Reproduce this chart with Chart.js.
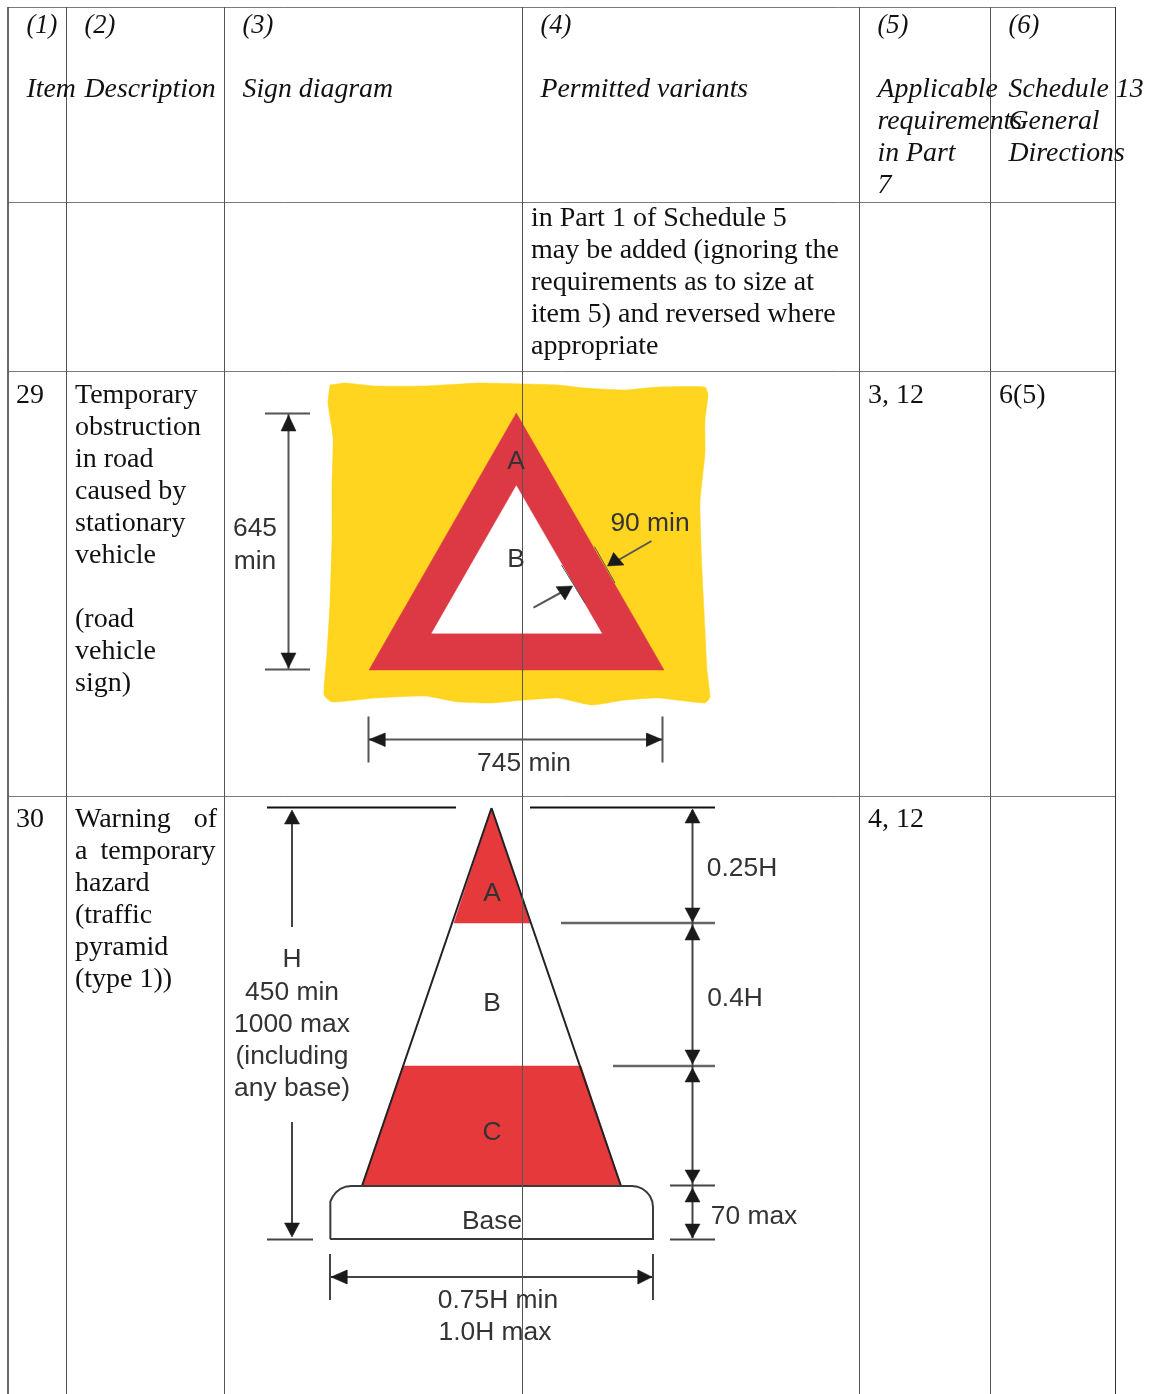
<!DOCTYPE html>
<html>
<head>
<meta charset="utf-8">
<title>Sign table</title>
<script src="https://cdn.jsdelivr.net/npm/chart.js@4/dist/chart.umd.min.js"></script>
<style>
  html, body { margin: 0; padding: 0; background: #fff; overflow: hidden; }
  canvas { display: block; }
</style>
</head>
<body>
<canvas id="signTable" width="1155" height="1394"></canvas>
<script>
// Table rules
const tableColumns = [8, 66.5, 224.5, 522.5, 859.5, 990.5, 1115.5];
const tableRows = [7.5, 202.5, 371.5, 796.5];

// Text of the table
const headerNumbers = ['(1)', '(2)', '(3)', '(4)', '(5)', '(6)'];
const headerX = [26.5, 84.5, 242.5, 540.5, 877.5, 1008.5];
const headerTitles = [
    ['Item'], ['Description'], ['Sign diagram'], ['Permitted variants'],
    ['Applicable', 'requirements', 'in Part', '7'],
    ['Schedule 13', 'General', 'Directions']
];
const carriedOver = ['in Part 1 of Schedule 5', 'may be added (ignoring the', 'requirements as to size at', 'item 5) and reversed where', 'appropriate'];
const item29 = ['Temporary', 'obstruction', 'in road', 'caused by', 'stationary', 'vehicle', '', '(road', 'vehicle', 'sign)'];
const item30 = [['Warning', 'of'], ['a', 'temporary'], ['hazard'], ['(traffic'], ['pyramid'], ['(type 1))']];

// Item 29 sign
const yellowPatch = [[330,385],[345,383],[375,386],[425,386],[478,383],[525,384],[558,385],[585,388],[625,390],[658,387],[705,387],[708,395],[705,420],[705,453],[700,503],[702,570],[705,630],[707,670],[710,697],[705,703],[658,698],[625,700],[592,705],[558,698],[525,700],[492,703],[458,702],[425,696],[375,698],[332,702],[324,695],[327,653],[330,603],[332,537],[332,487],[333,437],[328,403],[330,385]];
const redTriangle = [[516.3,413],[369,670],[664,670],[516.3,413]];
const whiteTriangle = [[516.3,485.7],[431.7,633.3],[601.7,633.3],[516.3,485.7]];
const sign29Rules = [
    [[265,413.5],[310,413.5]], [[265,669.5],[310,669.5]], [[288.5,414],[288.5,669]],
    [[368.5,716.5],[368.5,762.5]], [[662.5,716.5],[662.5,762.5]], [[369,739.5],[662,739.5]],
    [[651.5,541],[615,562]], [[533.5,607.7],[562,592]]
];
const sign29Edges = [[[594.5,546.5],[615,583]], [[561.5,565],[585,603]]];
const sign29Arrows = [
    [[288.5,415],[281,431],[296,431]], [[288.5,668],[281,653],[296,653]],
    [[369,739.5],[385,733],[385,746.5]], [[662,739.5],[646.5,733],[646.5,746.5]],
    [[607.5,566],[613.5,552.5],[624,565]], [[572.7,586],[556,586.7],[565,600]]
];
const sign29Labels = [['645',255,536],['min',255,569],['A',516,469],['B',516,567],['90 min',650,531],['745 min',524,771]];

// Item 30 sign
const coneOutline = [[491.5,808],[621,1186],[362,1186],[491.5,808]];
const bandA = [[491.5,808],[530,923],[454,923],[491.5,808]];
const bandC = [[403,1066],[581,1066],[621,1186],[362,1186],[403,1066]];
const coneBase = [[330,1239],[330,1207],[330.7,1201.6],[332.8,1196.5],[336.2,1192.2],[340.5,1188.8],[345.6,1186.7],[351,1186],[632,1186],[637.4,1186.7],[642.5,1188.8],[646.8,1192.2],[650.2,1196.5],[652.3,1201.6],[653,1207],[653,1239],[330,1239]];
const sign30BlackRules = [[[267,807.5],[456,807.5]], [[530,807.5],[715,807.5]]];
const sign30HeavyRules = [[[561,923],[715,923]], [[613,1066],[715,1066]]];
const sign30Rules = [
    [[292,812],[292,927]], [[292,1122],[292,1225]], [[267,1239.5],[313,1239.5]],
    [[692.5,810],[692.5,1238]], [[670,1185.5],[715,1185.5]], [[670,1239.5],[715,1239.5]],
    [[330,1254],[330,1300]], [[653,1254],[653,1300]], [[331,1277],[652,1277]]
];
const sign30Arrows = [
    [[292,810],[284.5,824],[299.5,824]], [[292,1237],[284.5,1223],[299.5,1223]],
    [[692.5,809],[685,823],[700,823]], [[692.5,922],[685,908],[700,908]],
    [[692.5,925],[685,940],[700,940]], [[692.5,1064],[685,1050],[700,1050]],
    [[692.5,1068],[685,1082],[700,1082]], [[692.5,1183],[685,1170],[700,1170]],
    [[692.5,1188],[685,1202],[700,1202]], [[692.5,1238],[685,1224],[700,1224]],
    [[331,1277],[347,1270],[347,1284]], [[652,1277],[638,1270],[638,1284]]
];
const sign30Labels = [
    ['A',492,901],['B',492,1011],['C',492,1140],['Base',492,1229],
    ['H',292,967],['450 min',292,1000],['1000 max',292,1032],['(including',292,1064],['any base)',292,1096],
    ['0.25H',742,876],['0.4H',735,1006],['70 max',754,1224],['0.75H min',498,1308],['1.0H max',495,1340]
];

const SOFT = 'blur(0.5px)'; // the sign pictures in the source are scaled up and a bit soft

const toPoints = (pts) => pts.map(([x, y]) => ({ x, y }));

// order: lower is painted on top, so the table rules come out above the signs
function outline(pts, color, width, order) {
    return { data: toPoints(pts), borderColor: color, borderWidth: width, fill: false, order };
}
function shape(pts, color, order, tension = 0) {
    return { data: toPoints(pts), borderColor: color, borderWidth: 0.5, backgroundColor: color, fill: 'shape', tension, order };
}

const datasets = [
    shape(yellowPatch, '#ffd520', 9, 0.15),
    shape(redTriangle, '#dc3945', 8),
    shape(whiteTriangle, '#ffffff', 7),
    shape(coneBase, '#ffffff', 9),
    outline(coneBase, '#3a3a3a', 2, 6),
    shape(bandA, '#e6393c', 8),
    shape(bandC, '#e6393c', 8),
    outline(coneOutline, '#222222', 2, 7),
    ...sign29Rules.map((r) => outline(r, '#555555', 2, 5)),
    ...sign29Edges.map((r) => outline(r, '#555555', 1, 5)),
    ...sign30Rules.map((r) => outline(r, '#444444', 2, 5)),
    ...sign30HeavyRules.map((r) => outline(r, '#666666', 2.6, 5)),
    ...sign30BlackRules.map((r) => outline(r, '#111111', 1.8, 5)),
    ...sign29Arrows.concat(sign30Arrows).map((a) => shape([...a, a[0]], '#1a1a1a', 4)),
    ...tableColumns.map((x, i) => outline([[x, 7], [x, 1394]], i === 6 ? '#333333' : '#555555', 1, 1)),
    ...tableRows.map((y) => outline([[8, y], [1115.5, y]], '#7a7a7a', 1, 2))
];

// Soft focus for the sign datasets only, switched off again before the table rules
const softSigns = {
    id: 'softSigns',
    beforeDatasetsDraw(chart) {
        chart.ctx.filter = SOFT;
    },
    afterDatasetDraw(chart, args) {
        const metas = chart.getSortedVisibleDatasetMetas();
        const next = metas[metas.findIndex((m) => m.index === args.index) - 1];
        if (next && next.order <= 2) chart.ctx.filter = 'none';
    }
};

// Table and diagram text, placed through the same scales as the marks
const tableText = {
    id: 'tableText',
    afterDatasetsDraw(chart) {
        const { ctx, scales: { x: xs, y: ys } } = chart;
        const put = (text, x, y) => ctx.fillText(text, xs.getPixelForValue(x), ys.getPixelForValue(y));
        const PITCH = 32;

        ctx.save();
        ctx.filter = 'none';
        ctx.textBaseline = 'alphabetic';
        ctx.textAlign = 'left';
        ctx.fillStyle = '#111';

        ctx.font = "italic 26.5px 'Liberation Serif'";
        headerNumbers.forEach((t, i) => put(t, headerX[i], 33));
        ctx.font = "italic 27.8px 'Liberation Serif'";
        headerTitles.forEach((lines, i) => lines.forEach((t, j) => put(t, headerX[i], 97 + j * PITCH)));

        ctx.font = "28px 'Liberation Serif'";
        carriedOver.forEach((t, i) => put(t, 531, 226 + i * PITCH));
        put('29', 16, 403);
        item29.forEach((t, i) => put(t, 75, 403 + i * PITCH));
        put('3, 12', 868, 403);
        put('6(5)', 999, 403);
        put('30', 16, 827);
        put('4, 12', 868, 827);
        item30.forEach((words, i) => {
            const y = 827 + i * PITCH;
            put(words[0], 75, y);
            if (words[1]) {
                ctx.textAlign = 'right';
                put(words[1], i === 1 ? 215.5 : 217, y);
                ctx.textAlign = 'left';
            }
        });

        ctx.filter = SOFT;
        ctx.font = "26.4px 'Liberation Sans'";
        ctx.fillStyle = '#333';
        ctx.textAlign = 'center';
        sign29Labels.concat(sign30Labels).forEach(([t, x, y]) => put(t, x, y));
        ctx.restore();
    }
};

new Chart(document.getElementById('signTable'), {
    type: 'line',
    data: { datasets },
    plugins: [softSigns, tableText],
    options: {
        responsive: false,
        animation: false,
        events: [],
        layout: { padding: 0 },
        elements: { point: { radius: 0 }, line: { borderCapStyle: 'butt' } },
        plugins: { legend: { display: false }, tooltip: { enabled: false } },
        scales: {
            x: { type: 'linear', display: false, min: 0, max: 1155 },
            y: { type: 'linear', display: false, min: 0, max: 1394, reverse: true }
        }
    }
});
</script>
</body>
</html>
